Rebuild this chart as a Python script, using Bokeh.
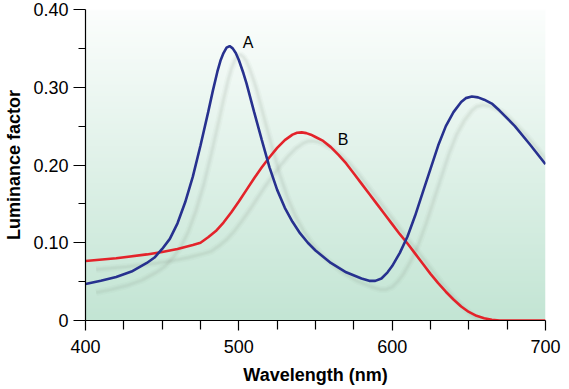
import numpy as np
from bokeh.plotting import figure
from bokeh.models import Range1d, FixedTicker
from bokeh.core.properties import value
from bokeh.embed import file_html
from bokeh.resources import INLINE

# ---- data ----
wavelength_a = [400, 410, 420, 430, 440, 445, 450, 455, 460, 465, 470, 475, 480, 483, 486,
                488, 490, 492, 494, 496, 498, 500, 503, 505, 510, 515, 520, 525, 530, 535,
                540, 545, 550, 560, 570, 580, 585, 589, 593, 597, 600, 605, 610, 615, 620,
                625, 630, 635, 640, 645, 648, 652, 656, 660, 665, 670, 680, 690, 700]
luminance_a = [0.047, 0.051, 0.056, 0.063, 0.074, 0.081, 0.092, 0.105, 0.125, 0.152, 0.185,
               0.225, 0.268, 0.295, 0.320, 0.334, 0.344, 0.351, 0.353, 0.350, 0.344, 0.335,
               0.318, 0.305, 0.268, 0.232, 0.197, 0.168, 0.145, 0.127, 0.112, 0.100, 0.090,
               0.074, 0.062, 0.054, 0.051, 0.051, 0.054, 0.062, 0.070, 0.087, 0.108, 0.135,
               0.165, 0.195, 0.225, 0.250, 0.268, 0.281, 0.286, 0.288, 0.287, 0.284, 0.279,
               0.270, 0.250, 0.226, 0.201]

wavelength_b = [400, 420, 440, 450, 460, 470, 475, 480, 485, 490, 495, 500, 505, 510, 515,
                520, 525, 530, 535, 538, 541, 544, 547, 550, 555, 560, 565, 570, 575, 580,
                585, 590, 595, 600, 605, 610, 615, 620, 625, 630, 635, 640, 645, 650, 655,
                660, 665, 670, 700]
luminance_b = [0.0765, 0.080, 0.085, 0.088, 0.092, 0.097, 0.100, 0.107, 0.115, 0.126, 0.139,
               0.153, 0.168, 0.183, 0.197, 0.210, 0.222, 0.232, 0.239, 0.2415, 0.242, 0.241,
               0.239, 0.236, 0.231, 0.223, 0.213, 0.202, 0.189, 0.176, 0.163, 0.150, 0.137,
               0.124, 0.111, 0.099, 0.086, 0.073, 0.060, 0.048, 0.037, 0.027, 0.018, 0.011,
               0.006, 0.003, 0.001, 0.0, 0.0]

curve_labels = ["A", "B"]
label_x = [506, 568]
label_y = [0.358, 0.233]

x_ticks = [400, 500, 600, 700]
x_minor = [425, 450, 475, 525, 550, 575, 625, 650, 675]
y_ticks = [0.0, 0.1, 0.2, 0.3, 0.4]
y_tick_labels = ["0", "0.10", "0.20", "0.30", "0.40"]
y_minor = [0.05, 0.15, 0.25, 0.35]

X0, X1, Y0, Y1 = 400, 700, 0.0, 0.40
FONT = "Liberation Sans"

p = figure(width=561, height=387, output_backend="svg", toolbar_location=None,
           x_range=Range1d(X0, X1), y_range=Range1d(Y0, Y1),
           min_border_left=85, min_border_right=16, min_border_top=9, min_border_bottom=65)
p.outline_line_color = None
p.xgrid.visible = False
p.ygrid.visible = False
p.background_fill_color = "white"
p.border_fill_color = "white"

# background vertical gradient inside the frame
n = 200
t = np.linspace(0, 1, n)  # 0 bottom -> 1 top
top = np.array([252, 254, 253])
bot = np.array([195, 229, 212])
cols = (bot[None, :] * (1 - t[:, None]) + top[None, :] * t[:, None]).astype(np.uint32)
img = np.empty((n, 1), dtype=np.uint32)
view = img.view(dtype=np.uint8).reshape((n, 1, 4))
view[:, 0, 0] = cols[:, 0]
view[:, 0, 1] = cols[:, 1]
view[:, 0, 2] = cols[:, 2]
view[:, 0, 3] = 255
p.image_rgba(image=[img], x=X0, y=Y0, dw=X1 - X0, dh=Y1 - Y0)

# soft shadows
dx, dy = 7, -0.011
for xs, ys in [(wavelength_a, luminance_a), (wavelength_b, luminance_b)]:
    sx = [v + dx for v in xs]
    sy = [v + dy for v in ys]
    p.line(sx, sy, line_color="#8a9a92", line_width=7, line_alpha=0.05)
    p.line(sx, sy, line_color="#8a9a92", line_width=4, line_alpha=0.07)
    p.line(sx, sy, line_color="#8a9a92", line_width=2, line_alpha=0.07)

p.line(wavelength_b, luminance_b, line_color="#e3232a", line_width=2.6)
p.line(wavelength_a, luminance_a, line_color="#27318f", line_width=2.6)

p.text(x=label_x, y=label_y, text=curve_labels, text_font=value(FONT),
       text_font_size="16px", text_align="center", text_baseline="alphabetic",
       text_color="black")

# axes
xa = p.xaxis[0]
xa.ticker = FixedTicker(ticks=x_ticks, minor_ticks=x_minor)
xa.axis_label = "Wavelength (nm)"
ya = p.yaxis[0]
ya.ticker = FixedTicker(ticks=y_ticks, minor_ticks=y_minor)
ya.major_label_overrides = {v: s for v, s in zip(y_ticks, y_tick_labels)}
ya.axis_label = "Luminance factor"

for ax in (xa, ya):
    ax.axis_line_color = "black"
    ax.axis_line_width = 1.2
    ax.major_tick_line_color = "black"
    ax.minor_tick_line_color = "black"
    ax.major_tick_line_width = 1.2
    ax.minor_tick_line_width = 1.2
    ax.major_tick_in = 0
    ax.minor_tick_in = 0
    ax.major_label_text_font = FONT
    ax.major_label_text_font_size = "18px"
    ax.major_label_text_color = "black"
    ax.axis_label_text_font = FONT
    ax.axis_label_text_font_size = "18px"
    ax.axis_label_text_font_style = "bold"
    ax.axis_label_text_color = "black"

xa.major_tick_out = 10
xa.minor_tick_out = 9
xa.major_label_standoff = 9
xa.axis_label_standoff = 9
ya.major_tick_out = 12
ya.minor_tick_out = 7
ya.major_label_standoff = 5
ya.axis_label_standoff = 6

open("out.html", "w").write(file_html(p, INLINE))
